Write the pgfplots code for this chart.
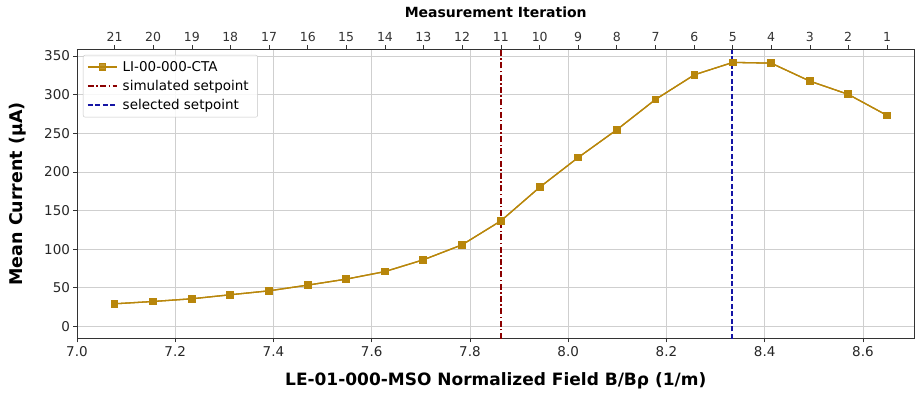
\documentclass[border=0pt]{standalone}
\usepackage{fontspec}
\setmainfont{DejaVu Sans}
\usepackage{pgfplots}
\pgfplotsset{compat=1.18}
\pgfplotsset{mylegend/.style={legend image code/.code={\draw[mark repeat=2,mark phase=2,##1] plot coordinates {(0pt,0pt) (14.5pt,0pt) (29pt,0pt)};}}}
\definecolor{gold}{HTML}{B8860B}
\definecolor{simred}{HTML}{8B0000}
\definecolor{selblue}{HTML}{1515A5}
\definecolor{gridgray}{HTML}{CFCFCF}
\definecolor{spine}{HTML}{333333}
\begin{document}
\begin{tikzpicture}
\path[use as bounding box] (-77pt,-55pt) rectangle (838.5pt,339pt);
\begin{axis}[
  at={(0,0)}, anchor=south west, scale only axis, width=838pt, height=290pt,
  xmin=7.0, xmax=8.705, ymin=-16, ymax=359,
  xtick={7.0,7.2,7.4,7.6,7.8,8.0,8.2,8.4,8.6},
  xticklabels={7.0,7.2,7.4,7.6,7.8,8.0,8.2,8.4,8.6},
  ytick={0,50,100,150,200,250,300,350},
  /pgf/number format/assume math mode=true,
  grid=major, major grid style={gridgray, line width=0.7pt},
  axis line style={spine, line width=0.9pt},
  tick style={spine, line width=0.7pt}, tick align=outside, major tick length=3.5pt,
  xtick pos=bottom, ytick pos=left,
  ticklabel style={font=\fontsize{13.5}{15}\selectfont, text=black!85},
  xticklabel style={yshift=-1pt},
  xlabel={LE-01-000-MSO Normalized Field B/Bρ (1/m)},
  ylabel={Mean Current (µA)},
  xlabel style={at={(axis description cs:0.5,0)}, anchor=center, yshift=-42.5pt, font=\bfseries\fontsize{17}{19}\selectfont},
  ylabel style={at={(axis description cs:0,0.5)}, anchor=center, yshift=59pt, font=\bfseries\fontsize{17.5}{19}\selectfont},
  legend style={at={(axis description cs:0,1)}, anchor=north west, xshift=6pt, yshift=-6pt,
    draw=gray!45, rounded corners=2pt, fill=white, fill opacity=0.85, text opacity=1,
    font=\fontsize{13.5}{15}\selectfont, row sep=3.5pt, inner sep=4pt,
    nodes={inner xsep=5pt}},
  legend cell align=left,
]
\addplot[mylegend, gold, line width=1.3pt, mark=square*, mark size=3.2pt, mark options={fill=gold, draw=gold}] coordinates {
(7.0765,29.3) (7.155,32.3) (7.234,35.8) (7.312,41.0) (7.391,46.1) (7.470,53.5) (7.548,61.2)
(7.627,71.0) (7.705,86.2) (7.784,105.6) (7.863,136.6) (7.942,180.1) (8.020,218.4) (8.099,254.5)
(8.178,293.8) (8.257,325.6) (8.335,341.6) (8.413,340.7) (8.492,317.4) (8.570,300.3) (8.649,273.1)
};
\addlegendentry{LI-00-000-CTA}
\addplot[mylegend, simred, line width=1.6pt, dash pattern=on 6pt off 2.4pt on 1.5pt off 2.4pt] coordinates {(7.863,-16) (7.863,359)};
\addlegendentry{simulated setpoint}
\addplot[mylegend, selblue, line width=1.6pt, dash pattern=on 5pt off 2.5pt] coordinates {(8.333,-16) (8.333,359)};
\addlegendentry{selected setpoint}
\addplot[forget plot, gold, line width=1.3pt, mark=square*, mark size=3.2pt, mark options={fill=gold, draw=gold}] coordinates {
(7.0765,29.3) (7.155,32.3) (7.234,35.8) (7.312,41.0) (7.391,46.1) (7.470,53.5) (7.548,61.2)
(7.627,71.0) (7.705,86.2) (7.784,105.6) (7.863,136.6) (7.942,180.1) (8.020,218.4) (8.099,254.5)
(8.178,293.8) (8.257,325.6) (8.335,341.6) (8.413,340.7) (8.492,317.4) (8.570,300.3) (8.649,273.1)
};
\end{axis}
\begin{axis}[
  at={(0,0)}, anchor=south west, scale only axis, width=838pt, height=290pt,
  xmin=7.0, xmax=8.705, ymin=-16, ymax=359,
  axis x line*=top, axis y line=none,
  axis line style={spine, line width=0.9pt},
  tick style={spine, line width=0.7pt}, tick align=outside, major tick length=3.5pt,
  xtick={7.0765,7.155,7.234,7.312,7.391,7.470,7.548,7.627,7.705,7.784,7.863,7.942,8.020,8.099,8.178,8.257,8.335,8.413,8.492,8.570,8.649},
  xticklabels={21,20,19,18,17,16,15,14,13,12,11,10,9,8,7,6,5,4,3,2,1},
  ticklabel style={font=\fontsize{12.5}{14}\selectfont, text=black!80},
  xlabel={Measurement Iteration},
  xlabel style={at={(axis description cs:0.5,1)}, anchor=center, yshift=36.5pt, font=\bfseries\fontsize{14}{16}\selectfont},
]
\addplot[draw=none] coordinates {(7.5,100)};
\end{axis}
\end{tikzpicture}
\end{document}
